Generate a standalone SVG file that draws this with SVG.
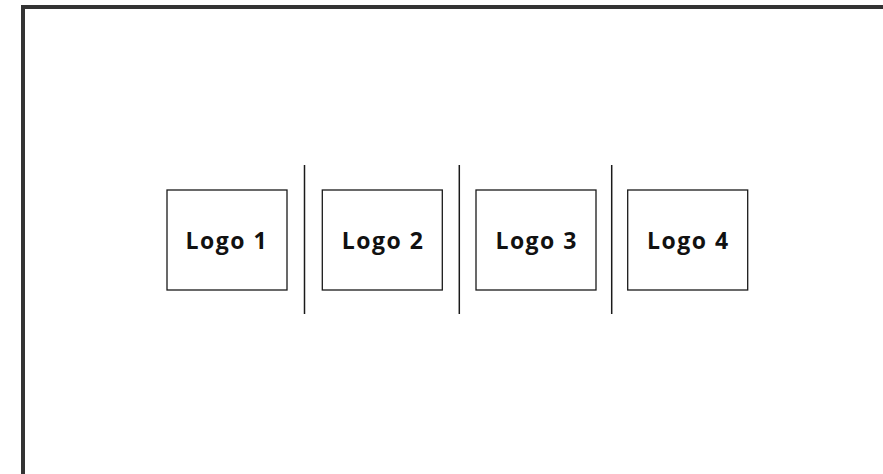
<svg xmlns="http://www.w3.org/2000/svg" width="883" height="474" viewBox="0 0 883 474">
<style>
.box{fill:#fff;stroke:#1a1a1a;stroke-width:1.3}
.lbl{font-family:"Open Sans","Noto Sans",sans-serif;font-weight:bold;font-size:23px;letter-spacing:1.5px;fill:#111;text-anchor:middle}
.div{stroke:#1a1a1a;stroke-width:1.5}
</style>
<rect width="883" height="474" fill="#fff"/>
<path id="frame" d="M23,476 V7 H885" fill="none" stroke="#333" stroke-width="4"/>
<g id="node1"><rect class="box" x="167" y="190" width="120" height="100"/><text class="lbl" x="226.8" y="248.5">Logo 1</text></g>
<g id="node2"><rect class="box" x="322.3" y="190" width="120" height="100"/><text class="lbl" x="383" y="248.5">Logo 2</text></g>
<g id="node3"><rect class="box" x="476" y="190" width="120" height="100"/><text class="lbl" x="536.7" y="248.5">Logo 3</text></g>
<g id="node4"><rect class="box" x="627.7" y="190" width="120" height="100"/><text class="lbl" x="688.4" y="248.5">Logo 4</text></g>
<g id="connectors">
<line class="div" x1="304.5" y1="165" x2="304.5" y2="314"/>
<line class="div" x1="459.3" y1="165" x2="459.3" y2="314"/>
<line class="div" x1="611.7" y1="165" x2="611.7" y2="314"/>
</g>
</svg>
